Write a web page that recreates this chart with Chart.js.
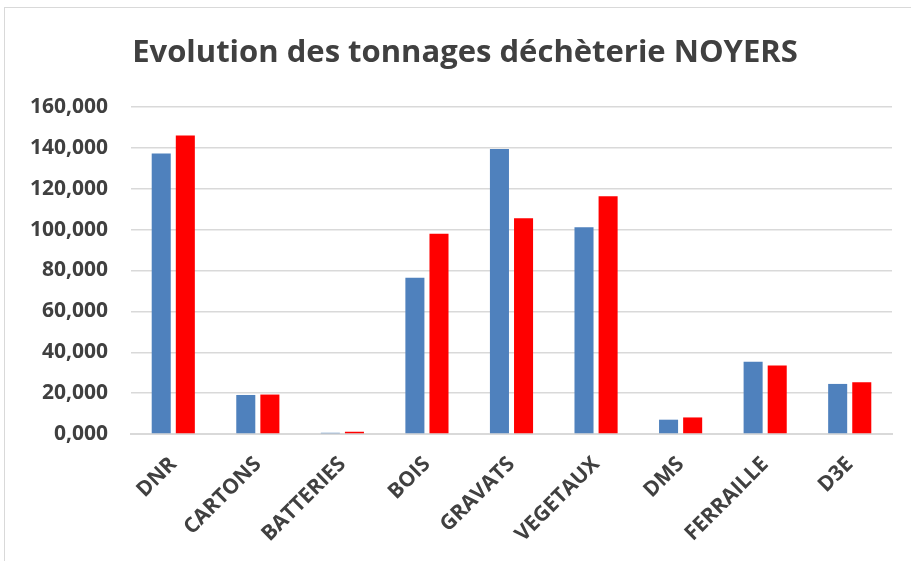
<!DOCTYPE html>
<html>
<head>
<meta charset="utf-8">
<script src="https://cdn.jsdelivr.net/npm/chart.js@4"></script>
<style>
  html, body { margin: 0; padding: 0; background: #fff; overflow: hidden; }
  #wrap { position: relative; width: 911px; height: 561px; }
  #cadre { position: absolute; left: 4px; top: 7px; width: 920px; height: 570px; border: 1px solid #d9d9d9; }
  #chart { position: absolute; left: 0; top: 0; }
</style>
</head>
<body>
<div id="wrap">
  <div id="cadre"></div>
  <canvas id="chart" width="911" height="561"></canvas>
</div>
<script>
// ---- Données (tonnes) ----
const categories = ['DNR', 'CARTONS', 'BATTERIES', 'BOIS', 'GRAVATS', 'VEGETAUX', 'DMS', 'FERRAILLE', 'D3E'];
const serieBleue = [137.3, 19.1, 0.6, 76.4, 139.4, 101.2, 7.0, 35.4, 24.5];
const serieRouge = [146.0, 19.3, 1.1, 98.0, 105.6, 116.3, 8.1, 33.5, 25.3];
const ticksY = [0, 20, 40, 60, 80, 100, 120, 140, 160];
const titre = 'Evolution des tonnages déchèterie NOYERS';

const BLEU  = '#4f81bd';
const ROUGE = '#ff0000';
const TEXTE = '#404040';
const GRILLE = '#d9d9d9';
const POLICE = 'Open Sans';

// titre dessiné à la main (centré un peu à droite comme dans Excel)
const titrePlugin = {
    id: 'titre',
    afterDraw(chart) {
        const ctx = chart.ctx;
        ctx.save();
        ctx.fillStyle = TEXTE;
        ctx.font = `bold 31px "${POLICE}"`;
        ctx.textAlign = 'center';
        ctx.textBaseline = 'alphabetic';
        ctx.fillText(titre, 465, 62);
        ctx.restore();
    }
};

new Chart(document.getElementById('chart'), {
    type: 'bar',
    data: {
        labels: categories,
        datasets: [
            { label: 'Série 1', data: serieBleue, backgroundColor: BLEU },
            { label: 'Série 2', data: serieRouge, backgroundColor: ROUGE }
        ]
    },
    options: {
        responsive: false,
        animation: false,
        categoryPercentage: 0.57,
        barPercentage: 0.79,
        layout: { padding: { left: 20, right: 19, top: 107, bottom: 0 } },
        plugins: {
            legend: { display: false },
            tooltip: { enabled: false },
            title: { display: false }
        },
        scales: {
            x: {
                grid: { display: false },
                border: { color: GRILLE, width: 2 },
                ticks: {
                    color: TEXTE,
                    font: { family: POLICE, size: 21, weight: 'bold' },
                    minRotation: 45,
                    maxRotation: 45,
                    padding: 10
                },
                afterFit: s => { s.height = 127; }
            },
            y: {
                min: 0,
                max: 160,
                afterBuildTicks: s => { s.ticks = ticksY.map(v => ({ value: v })); },
                grid: { color: GRILLE, lineWidth: 1.5, drawTicks: false },
                border: { display: false },
                ticks: {
                    color: TEXTE,
                    font: { family: POLICE, size: 21, weight: 'bold' },
                    padding: 23,
                    callback: v => v.toFixed(3).replace('.', ',')
                },
                afterFit: s => { s.width = 111; }
            }
        }
    },
    plugins: [titrePlugin]
});
</script>
</body>
</html>
